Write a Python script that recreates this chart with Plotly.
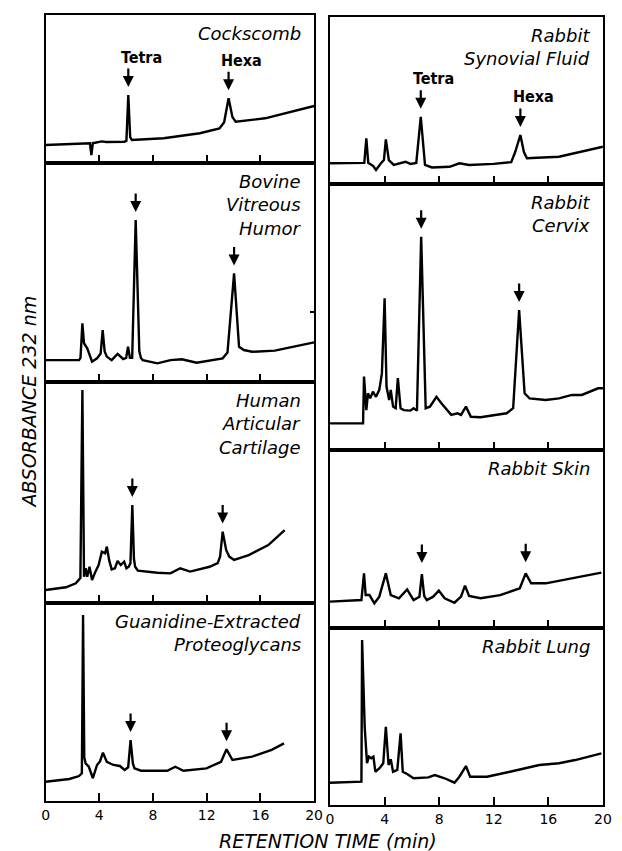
import plotly.graph_objects as go

# ---------------- data (retention time in min, relative absorbance) ----------------
cock_t = [0, 2.95, 3.3, 3.41, 3.52, 3.68, 4.19, 4.5, 5.87, 6.02, 6.16, 6.3, 6.43, 8.79, 11.49,
          12.95, 13.3, 13.63, 13.92, 14.16, 16.35, 20]
cock_a = [12.2, 13.3, 13.3, 5.4, 13.5, 13.7, 14.6, 14.2, 14.4, 15, 45.9, 17.5, 15.5, 16.7, 20.1,
          23.4, 27.5, 43.7, 31, 27.9, 30.2, 38.5]

bov_t = [0, 2.49, 2.6, 2.74, 2.86, 3.10, 3.46, 3.83, 4.1, 4.25, 4.4, 4.56, 4.92, 5.36, 5.78, 6.0,
         6.14, 6.28, 6.45, 6.71, 6.98, 7.1, 7.24, 8.33, 9.30, 10.15, 11.25, 13.19, 13.55, 14.04,
         14.41, 14.77, 15.38, 17.08, 20]
bov_a = [10, 10, 11, 26.8, 17.7, 15.4, 9.3, 10.8, 13, 23.7, 14, 11.6, 10, 12.8, 10.5, 11,
         16.1, 11, 11, 74, 14, 11, 10, 8.5, 10, 10.4, 8.8, 10.8, 13.5, 49.6,
         16.1, 14.6, 13.8, 14.3, 18.1]

hum_t = [0, 1.52, 2.25, 2.59, 2.74, 2.86, 2.98, 3.10, 3.27, 3.46, 3.71, 3.95, 4.19, 4.43, 4.56,
         4.73, 4.92, 5.16, 5.36, 5.60, 5.85, 6.02, 6.19, 6.32, 6.46, 6.58, 6.67, 6.87, 8.33, 9.30,
         10.03, 10.76, 12.22, 12.82, 13.0, 13.19, 13.45, 13.68, 14.04, 15.13, 16.59, 17.81]
hum_a = [5.9, 7.1, 8.9, 11.3, 96.4, 11.9, 15.7, 11.9, 16.4, 10.4, 14.2, 17.2, 23.2, 22.5, 25.5,
         19.5, 15.2, 15.7, 19.0, 17.2, 18.7, 15.7, 16.4, 18, 44.3, 20, 16.4, 14.6, 13.7, 13.4,
         15.7, 14.2, 16.4, 18.0, 21, 32.3, 24, 21.0, 19.5, 21.7, 26.2, 33.0]

gua_t = [0, 1.77, 2.49, 2.70, 2.79, 2.88, 2.98, 3.22, 3.52, 3.83, 4.05, 4.27, 4.56, 5.05, 5.53,
         5.89, 6.15, 6.33, 6.5, 6.62, 7.11, 9.06, 9.66, 10.27, 11.98, 13.07, 13.48, 13.92, 15.38,
         16.84, 17.76]
gua_a = [9.7, 11.1, 12.6, 14, 93.9, 22, 19.0, 17.3, 11.5, 18.2, 20, 24.4, 19.8, 18.2, 17.7,
         15.7, 17, 30.8, 19, 16.5, 15.3, 15.3, 17.3, 15.3, 16.5, 19.8, 26.1, 20.7, 22.4,
         25.8, 29.1]

syn_t = [0, 2.30, 2.51, 2.66, 2.80, 3.16, 3.37, 3.73, 3.95, 4.09, 4.31, 4.67, 5.17, 5.53, 5.89,
         6.32, 6.65, 6.96, 7.47, 8.76, 9.48, 10.19, 11.99, 13.28, 13.57, 13.95, 14.21, 14.43,
         16.78, 20]
syn_a = [12.4, 12.4, 12.6, 27.3, 12.6, 10.8, 8.4, 12.4, 14.3, 26.7, 14.3, 11.4, 12.4, 13.3, 12.0,
         12.6, 40.2, 11.4, 9.9, 10.3, 12.4, 11.4, 12.0, 13.1, 19.1, 29.3, 19.1, 15.4,
         16.3, 22.3]

cer_t = [0, 2.42, 2.49, 2.66, 2.78, 2.94, 3.14, 3.37, 3.61, 3.80, 4.00, 4.14, 4.33, 4.45, 4.62,
         4.81, 4.97, 5.17, 5.41, 5.89, 6.12, 6.37, 6.68, 7.01, 7.32, 7.80, 8.16, 8.88, 9.35, 9.60,
         9.96, 10.32, 11.03, 12.94, 13.42, 13.86, 14.26, 14.62, 15.81, 16.78, 17.73, 18.45,
         19.65, 20]
cer_a = [10.0, 10.0, 27.6, 15.0, 21.3, 19.4, 21.9, 20.0, 22.6, 28.8, 57.0, 23.8, 18.8, 22.6, 16.3,
         15.7, 27.0, 15.7, 15.0, 14.8, 15.7, 14.8, 80.2, 15.7, 16.3, 20.0, 17.6, 13.2, 13.8, 13.2,
         16.3, 12.5, 12.3, 13.8, 15.7, 52.6, 21.3, 19.4, 18.8, 19.4, 20.7, 20.7,
         23.2, 23.2]

skin_t = [0, 2.30, 2.49, 2.61, 2.89, 3.25, 3.61, 4.09, 4.45, 5.05, 5.65, 6.12, 6.55, 6.73, 6.9,
          7.09, 7.56, 7.97, 8.40, 9.12, 9.60, 9.89, 10.19, 11.03, 12.47, 13.91, 14.34, 14.74,
          15.81, 17.73, 19.89]
skin_a = [14.8, 15.7, 30.7, 18.5, 18.5, 13.9, 17.6, 30.7, 18.5, 16.7, 21.7, 15.7, 17.5, 30.3, 18,
          15.7, 17.6, 21.0, 16.7, 14.2, 17.6, 23.8, 18.0, 16.7, 18.5, 22.3, 30.7, 25.1,
          25.1, 27.9, 31.1]

lung_t = [0, 2.30, 2.35, 2.54, 2.71, 2.85, 3.02, 3.18, 3.32, 3.61, 3.90, 4.09, 4.29, 4.45, 4.62,
          4.93, 5.17, 5.33, 5.65, 6.12, 7.20, 7.68, 8.40, 9.12, 9.48, 9.96, 10.27, 11.51, 13.19,
          15.34, 16.78, 17.97, 19.89]
lung_a = [12.6, 13.2, 93.2, 44.2, 23.6, 27.3, 26.4, 27.3, 18.8, 20.7, 23.6, 44.2, 22.6, 25.8, 18.8,
          19.8, 40.5, 18.8, 17.5, 15.1, 15.6, 16.9, 15.1, 12.6, 16.0, 22.0, 16.0, 16.0, 18.8,
          22.6, 23.6, 25.4, 29.2]

# arrow positions (retention times of tetra- and hexasaccharide peaks)
cock_arrows = [6.16, 13.63]
bov_arrows = [6.71, 14.04]
hum_arrows = [6.46, 13.19]
gua_arrows = [6.33, 13.48]
syn_arrows = [6.65, 13.95]
cer_arrows = [6.68, 13.86]
skin_arrows = [6.73, 14.34]
lung_arrows = []
peak_labels = ["Tetra", "Hexa"]

tick_vals = [0, 4, 8, 12, 16, 20]
tick_text = ["0", "4", "8", "12", "16", "20"]

# ---------------- layout ----------------
W, H = 622, 851
COLS = {0: (42.5, 316.7), 1: (333.0, 611.7)}

panels = [
    dict(t=cock_t, a=cock_a, title=["Cockscomb"], col=0, top=15, bot=163, arrows=cock_arrows, labels=True, bottom=False),
    dict(t=bov_t, a=bov_a, title=["Bovine", "Vitreous", "Humor"], col=0, top=163, bot=382, arrows=bov_arrows, labels=False, bottom=False, rtick=True),
    dict(t=hum_t, a=hum_a, title=["Human", "Articular", "Cartilage"], col=0, top=382, bot=603, arrows=hum_arrows, labels=False, bottom=False),
    dict(t=gua_t, a=gua_a, title=["Guanidine-Extracted", "Proteoglycans"], col=0, top=603, bot=801, arrows=gua_arrows, labels=False, bottom=True),
    dict(t=syn_t, a=syn_a, title=["Rabbit", "Synovial Fluid"], col=1, top=16.7, bot=184, arrows=syn_arrows, labels=True, bottom=False),
    dict(t=cer_t, a=cer_a, title=["Rabbit", "Cervix"], col=1, top=184, bot=450, arrows=cer_arrows, labels=False, bottom=False),
    dict(t=skin_t, a=skin_a, title=["Rabbit Skin"], col=1, top=450, bot=628, arrows=skin_arrows, labels=False, bottom=False, gap=11),
    dict(t=lung_t, a=lung_a, title=["Rabbit Lung"], col=1, top=628, bot=805, arrows=lung_arrows, labels=False, bottom=True),
]

FONT = "DejaVu Sans"
fig = go.Figure()
layout = dict(width=W, height=H, margin=dict(l=0, r=0, t=0, b=0),
              paper_bgcolor="white", plot_bgcolor="white", showlegend=False)
annotations = []

for i, p in enumerate(panels, start=1):
    x0, x1 = COLS[p["col"]]
    xs = "" if i == 1 else str(i)
    fig.add_trace(go.Scatter(x=p["t"], y=p["a"], mode="lines",
                             line=dict(color="black", width=2.4),
                             xaxis="x" + xs, yaxis="y" + xs, hoverinfo="skip"))
    layout["xaxis" + xs] = dict(
        domain=[x0 / W, x1 / W], range=[0, 20], anchor="y" + xs,
        showline=True, linecolor="black", linewidth=2.2, mirror=True,
        ticks="inside", tickvals=tick_vals, ticktext=tick_text, ticklen=8, tickwidth=2,
        tickcolor="black", showgrid=False, zeroline=False,
        showticklabels=p["bottom"], tickfont=dict(family=FONT, size=14, color="black"))
    ycfg = dict(domain=[1 - p["bot"] / H, 1 - p["top"] / H], range=[0, 100], anchor="x" + xs,
                showline=True, linecolor="black", linewidth=2.2, mirror=True,
                showgrid=False, zeroline=False, showticklabels=False, ticks="")
    if p.get("rtick"):
        ycfg.update(side="right", ticks="inside", tickvals=[32], ticklen=4, tickwidth=2, tickcolor="black")
    layout["yaxis" + xs] = ycfg

    # titles (one annotation per line)
    for j, line in enumerate(p["title"]):
        annotations.append(dict(
            text=line, xref="x" + xs + " domain", yref="y" + xs + " domain",
            x=1, y=1, xanchor="right", yanchor="middle", showarrow=False,
            xshift=-11, yshift=-(18.5 + 23.3 * j),
            font=dict(family=FONT, size=18, color="black", style="italic")))

    # arrows
    gap = p.get("gap", 8)
    for k, rt in enumerate(p["arrows"]):
        idx = min(range(len(p["t"])), key=lambda n: abs(p["t"][n] - rt))
        peak = p["a"][idx]
        annotations.append(dict(
            text="", x=rt, y=peak, xref="x" + xs, yref="y" + xs,
            showarrow=True, arrowhead=2, arrowsize=1.0, arrowwidth=2.2, arrowcolor="black",
            ax=0, ay=-20, standoff=0, yshift=gap))
        if p["labels"]:
            annotations.append(dict(
                text="<b>" + peak_labels[k] + "</b>", x=rt, y=peak, xref="x" + xs, yref="y" + xs,
                showarrow=False, xanchor="center", yanchor="middle", xshift=13, yshift=gap + 20 + 10,
                font=dict(family="DejaVu Sans Condensed", size=16, color="black")))

annotations.append(dict(text="ABSORBANCE 232 nm", xref="paper", yref="paper",
                        x=26 / W, y=1 - 402 / H, textangle=-90, showarrow=False,
                        xanchor="center", yanchor="middle",
                        font=dict(family=FONT, size=19, color="black", style="italic")))
annotations.append(dict(text="RETENTION TIME (min)", xref="paper", yref="paper",
                        x=331 / W, y=1 - 841 / H, showarrow=False,
                        xanchor="center", yanchor="middle", borderpad=0,
                        font=dict(family=FONT, size=19, color="black", style="italic")))
layout["annotations"] = annotations
fig.update_layout(**layout)
fig.write_html("out.html")
